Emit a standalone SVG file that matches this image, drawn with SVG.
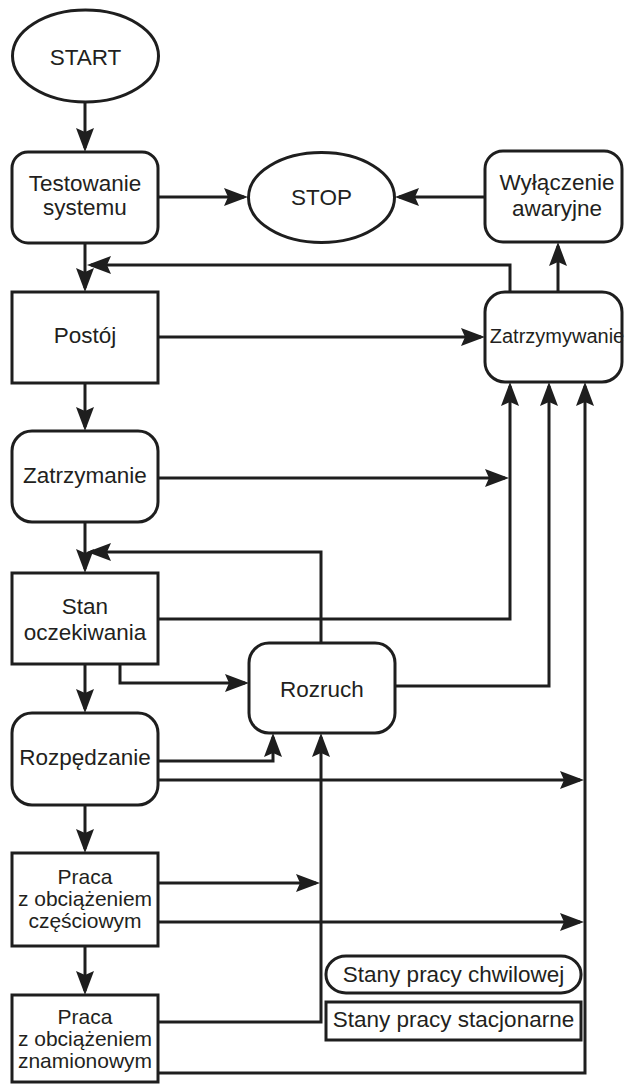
<svg xmlns="http://www.w3.org/2000/svg" width="625" height="1084" viewBox="0 0 625 1084">
<style>
.box{fill:#fff;stroke:#1e1e1e;stroke-width:3}
.t{font-family:"Liberation Sans",Arial,sans-serif;font-size:22.5px;fill:#231f20;text-anchor:middle}
.s{font-size:21px}
.c{fill:none;stroke:#1e1e1e;stroke-width:3}
.a{marker-end:url(#ah)}
</style>
<defs>
<marker id="ah" markerUnits="userSpaceOnUse" markerWidth="26" markerHeight="20" refX="20" refY="9" orient="auto">
<path d="M0,0 L24,9 L0,18 L4,9 z" fill="#1e1e1e"/>
</marker>
</defs>
<rect width="625" height="1084" fill="#fff"/>
<g id="connectors">
<path class="c a" d="M85,102 V148"/>
<path class="c a" d="M158,197 H244"/>
<path class="c a" d="M485,197 H399"/>
<path class="c a" d="M558,292 V246"/>
<path class="c a" d="M85,243 V288"/>
<path class="c a" d="M510,292 V265 H91"/>
<path class="c a" d="M158,337 H481"/>
<path class="c a" d="M85,383 V427"/>
<path class="c a" d="M158,478 H505"/>
<path class="c a" d="M85,522 V569"/>
<path class="c a" d="M321,643 V552 H91"/>
<path class="c a" d="M158,619 H510 V386"/>
<path class="c a" d="M120,664 V683 H245"/>
<path class="c a" d="M85,664 V709"/>
<path class="c a" d="M395,686 H549 V386"/>
<path class="c a" d="M158,761 H273 V737"/>
<path class="c a" d="M158,780 H580"/>
<path class="c a" d="M85,805 V849"/>
<path class="c a" d="M158,883 H316"/>
<path class="c a" d="M158,922 H580"/>
<path class="c a" d="M85,946 V991"/>
<path class="c a" d="M158,1022 H321 V737"/>
<path class="c a" d="M158,1073 H585 V386"/>
</g>
<g id="start">
<ellipse class="box" cx="85.5" cy="56" rx="73" ry="46"/>
<text class="t" x="85.5" y="65">START</text>
</g>
<g id="testowanie">
<rect class="box" x="12" y="152" width="146" height="91" rx="16"/>
<text class="t" x="85" y="191">Testowanie</text>
<text class="t" x="85" y="215">systemu</text>
</g>
<g id="stop">
<ellipse class="box" cx="321.5" cy="197.5" rx="73" ry="45"/>
<text class="t" x="321.5" y="205">STOP</text>
</g>
<g id="wylaczenie">
<rect class="box" x="485" y="151" width="137" height="91" rx="18"/>
<text class="t" x="557" y="190">Wyłączenie</text>
<text class="t" x="557" y="216">awaryjne</text>
</g>
<g id="zatrzymywanie">
<rect class="box" x="485" y="292" width="137" height="90" rx="20"/>
<text class="t" x="557" y="343" style="font-size:20px">Zatrzymywanie</text>
</g>
<g id="postoj">
<rect class="box" x="12" y="292" width="146" height="91"/>
<text class="t" x="85" y="343">Postój</text>
</g>
<g id="zatrzymanie">
<rect class="box" x="12" y="431" width="146" height="91" rx="20"/>
<text class="t" x="85" y="483">Zatrzymanie</text>
</g>
<g id="stan-oczekiwania">
<rect class="box" x="12" y="573" width="146" height="91"/>
<text class="t" x="85" y="614">Stan</text>
<text class="t" x="85" y="640">oczekiwania</text>
</g>
<g id="rozruch">
<rect class="box" x="249" y="643" width="146" height="90" rx="20"/>
<text class="t" x="322" y="697">Rozruch</text>
</g>
<g id="rozpedzanie">
<rect class="box" x="12" y="713" width="146" height="92" rx="20"/>
<text class="t" x="85" y="765">Rozpędzanie</text>
</g>
<g id="praca-czesciowa">
<rect class="box" x="12" y="853" width="146" height="93"/>
<text class="t s" x="85" y="884">Praca</text>
<text class="t s" x="85" y="906">z obciążeniem</text>
<text class="t s" x="85" y="928">częściowym</text>
</g>
<g id="praca-znamionowa">
<rect class="box" x="12" y="995" width="146" height="87"/>
<text class="t s" x="85" y="1024">Praca</text>
<text class="t s" x="85" y="1046">z obciążeniem</text>
<text class="t s" x="85" y="1068">znamionowym</text>
</g>
<g id="legend">
<rect class="box" x="326" y="956" width="255" height="37" rx="20" ry="18"/>
<text class="t" x="453.5" y="982">Stany pracy chwilowej</text>
<rect class="box" x="326" y="1002" width="255" height="38"/>
<text class="t" x="453.5" y="1027">Stany pracy stacjonarne</text>
</g>
</svg>
